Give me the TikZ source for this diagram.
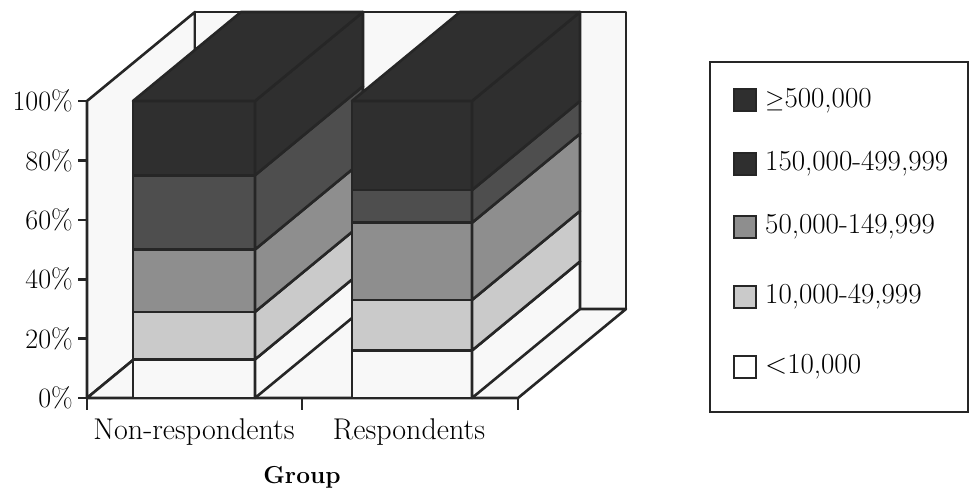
\documentclass[tikz,border=0pt]{standalone}
\usepackage{fontspec}
\begin{document}
\begin{tikzpicture}[x=1pt,y=-1pt,
  declare function={Y(\p)=398-2.97*\p;},
  edge/.style={draw=black!85,line width=2.6pt,line join=round},
  lab/.style={font=\fontsize{30}{32}\selectfont,inner sep=0pt},
  ylab/.style={font=\fontsize{28}{30}\selectfont,inner sep=0pt,anchor=east},
  legtxt/.style={font=\fontsize{29}{31}\selectfont,inner sep=0pt,anchor=west},
  swatch/.style={draw=black!85,line width=2.2pt,minimum size=22pt,inner sep=0pt}]
\definecolor{cA}{HTML}{2F2F2F}
\definecolor{cB}{HTML}{4E4E4E}
\definecolor{cC}{HTML}{8E8E8E}
\definecolor{cD}{HTML}{CACACA}
\definecolor{cE}{HTML}{F8F8F8}
\useasboundingbox (0,0) rectangle (971,495);
\fill[white] (0,0) rectangle (971,495);
% walls and floor
\filldraw[edge,fill=cE] (87,101) -- (195,12) -- (195,309) -- (87,398) -- cycle;
\filldraw[edge,fill=cE] (195,12) rectangle (626,309);
\filldraw[edge,fill=cE] (87,398) -- (518,398) -- (626,309) -- (195,309) -- cycle;
% axes
\draw[edge] (87,101) -- (87,410);
\draw[edge] (78,398) -- (518,398);
\foreach \t in {20,40,60,80,100} \draw[edge] (78,{Y(\t)}) -- (87,{Y(\t)});
\foreach \xx in {302,518} \draw[edge] (\xx,398) -- (\xx,410);
% bars
\foreach \xa/\xb/\lst in {133/255/{0/13/cE,13/29/cD,29/50/cC,50/75/cB,75/100/cA},
                          352/472/{0/16/cE,16/33/cD,33/59/cC,59/70/cB,70/100/cA}}{
  \foreach \lo/\hi/\col in \lst {
    \filldraw[edge,fill=\col] (\xa,{Y(\lo)}) rectangle (\xb,{Y(\hi)});
    \filldraw[edge,fill=\col] (\xb,{Y(\lo)}) -- ++(108,-89) -- ({\xb+108},{Y(\hi)-89}) -- (\xb,{Y(\hi)}) -- cycle;
  }
  \filldraw[edge,fill=cA] (\xa,{Y(100)}) -- (\xb,{Y(100)}) -- ++(108,-89) -- ({\xa+108},{Y(100)-89}) -- cycle;
}
% axis labels
\foreach \t in {0,20,40,60,80,100}
  \node[ylab] (y\t) at (73,{Y(\t)}) {\t\%};
\node[lab] (g1) at (194,432) {Non-respondents};
\node[lab] (g2) at (409,432) {Respondents};
\node[font=\fontsize{24.5}{26}\selectfont\bfseries,inner sep=0pt] (gt) at (302,477) {Group};
% legend
\draw[draw=black!85,line width=2.2pt] (710,62) rectangle (968,412);
\node[swatch,fill=cA] (s1) at (745,100) {};
\node[legtxt] (l1) at (765,101) {$\geq$500,000};
\node[swatch,fill=cA] (s2) at (745,164) {};
\node[legtxt] (l2) at (765,164) {150,000-499,999};
\node[swatch,fill=cC] (s3) at (745,227) {};
\node[legtxt] (l3) at (765,227) {50,000-149,999};
\node[swatch,fill=cD] (s4) at (745,297) {};
\node[legtxt] (l4) at (765,297) {10,000-49,999};
\node[swatch,fill=white] (s5) at (745,367) {};
\node[legtxt] (l5) at (765,367) {<10,000};
\end{tikzpicture}
\end{document}
